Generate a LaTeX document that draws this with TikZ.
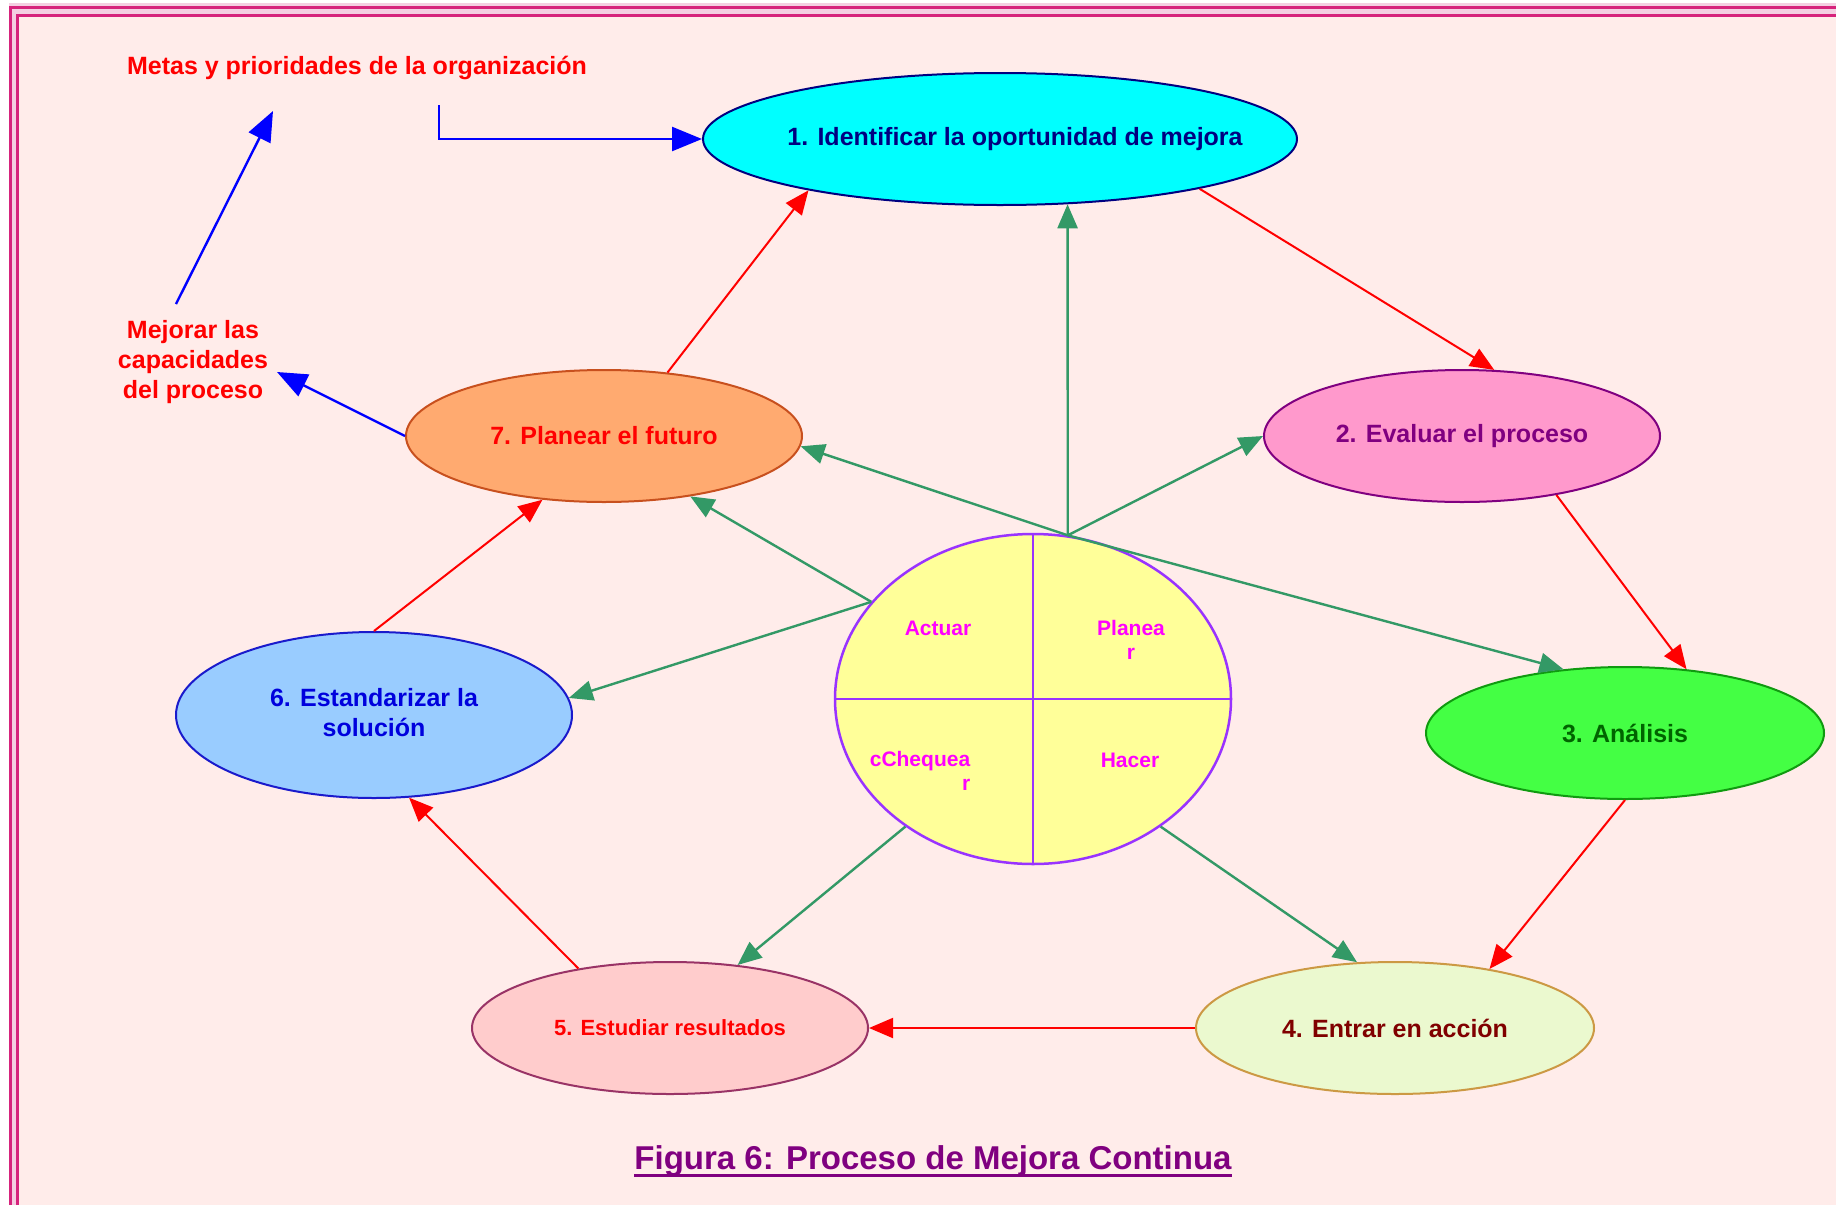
\documentclass[tikz,border=0pt]{standalone}
\usepackage{fontspec}
\setmainfont{Liberation Sans}
\usetikzlibrary{shapes.geometric,arrows.meta}
\definecolor{bg}{HTML}{FFECEA}
\definecolor{band}{HTML}{F4CFE2}
\definecolor{framec}{HTML}{D6237C}
\definecolor{grn}{HTML}{339966}
\definecolor{fa}{HTML}{00FFFF}\definecolor{da}{HTML}{000080}
\definecolor{fb}{HTML}{FF99CC}\definecolor{db}{HTML}{800080}
\definecolor{fc}{HTML}{44FF44}\definecolor{dc}{HTML}{109A10}\definecolor{tc}{HTML}{006400}
\definecolor{fd}{HTML}{EBF9CF}\definecolor{dd}{HTML}{CC9944}\definecolor{td}{HTML}{800000}
\definecolor{fe}{HTML}{FFCCCC}\definecolor{de}{HTML}{993366}
\definecolor{ff}{HTML}{99CCFF}\definecolor{df}{HTML}{1A1ACC}\definecolor{tf}{HTML}{0000DD}
\definecolor{fg}{HTML}{FFAA70}\definecolor{dg}{HTML}{C8501E}
\definecolor{circf}{HTML}{FFFF99}\definecolor{circd}{HTML}{9933FF}
\definecolor{quad}{HTML}{FF00FF}
\definecolor{capc}{HTML}{800080}
\newcommand{\ctext}[1]{\makebox[0pt][c]{#1}}
\tikzset{
  ell/.style={ellipse, draw, line width=2pt, inner sep=0pt,
    font=\bfseries\fontsize{25}{30}\selectfont},
  redar/.style={draw=red, line width=2pt, -{Triangle[length=24pt,width=20pt]}, red},
  grnar/.style={draw=grn, line width=2.4pt, -{Triangle[length=24pt,width=20pt]}, grn},
  bluar/.style={draw=blue, line width=2.4pt, -{Triangle[length=30pt,width=24pt]}, blue},
  redtxt/.style={text=red, font=\bfseries\fontsize{25}{29.6}\selectfont, align=center, inner sep=0pt},
  quadtxt/.style={text=quad, font=\bfseries\fontsize{21}{24}\selectfont, inner sep=0pt},
}
\begin{document}
\begin{tikzpicture}[x=1pt,y=-1pt]
\useasboundingbox (0,0) rectangle (1836,1205);
\fill[white] (0,0) rectangle (1836,1205);
\fill[band] (9,3) rectangle (1836,1205);
\fill[bg] (19.3,16.5) rectangle (1836,1205);
\draw[framec, line width=3pt] (10.7,1205) -- (10.7,7.3) -- (1836,7.3);
\draw[framec, line width=3pt] (17.8,1205) -- (17.8,15) -- (1836,15);

% process ellipses
\node[ell, fill=fa, draw=da, text=da, minimum width=594pt, minimum height=132pt] (e1) at (1000,139) {\ctext{\hspace*{30pt}1. Identificar la oportunidad de mejora}};
\node[ell, fill=fb, draw=db, text=db, minimum width=396pt, minimum height=132pt] (e2) at (1462,436) {\ctext{2. Evaluar el proceso}};
\node[ell, fill=fc, draw=dc, text=tc, minimum width=398pt, minimum height=132pt] (e3) at (1625,733) {\ctext{3. Análisis}};
\node[ell, fill=fd, draw=dd, text=td, minimum width=398pt, minimum height=132pt] (e4) at (1395,1028) {\ctext{4. Entrar en acción}};
\node[ell, fill=fe, draw=de, text=red, minimum width=396pt, minimum height=132pt, font=\bfseries\fontsize{22}{26}\selectfont] (e5) at (670,1028) {\ctext{5. Estudiar resultados}};
\node[ell, fill=ff, draw=df, text=tf, minimum width=396pt, minimum height=166pt] (e6) at (374,715) {\ctext{\begin{tabular}{@{}c@{}}6. Estandarizar la\\solución\end{tabular}}};
\node[ell, fill=fg, draw=dg, text=red, minimum width=396pt, minimum height=132pt] (e7) at (604,436) {\ctext{7. Planear el futuro}};

% PDCA circle
\node[ellipse, draw=circd, fill=circf, line width=2.5pt, minimum width=396pt, minimum height=330pt, inner sep=0pt] (C) at (1033,699) {};
\draw[circd, line width=2.5pt] (C.north) -- (C.south);
\draw[circd, line width=2.5pt] (C.west) -- (C.east);
\node[quadtxt] (qa) at (938,628) {Actuar};
\node[quadtxt, align=center] (qp) at (1131,640) {Planea\\r};
\node[quadtxt, align=right] (qc) at (920,771) {cChequea\\r};
\node[quadtxt] (qh) at (1130,760) {Hacer};

% free texts
\node[redtxt] (metas) at (357,68) {Metas y prioridades de la organización};
\node[redtxt] (mej) at (193,362) {Mejorar las\\capacidades\\del proceso};

% red cycle
\draw[redar] (e1.-14) -- (e2.64);
\draw[redar] (e2.-32) -- (e3.46);
\draw[redar] (e3.-90) -- (e4.32);
\draw[redar] (e4.west) -- (e5.east);
\draw[redar] (e5.147) -- (e6.-67);
\draw[redar] (e6.90) -- (e7.-134);
\draw[redar] (e7.45) -- (e1.195);

% green spokes
\draw[grnar] (C.78) -- (e1.-44);
\draw[grnar] (C.78) -- (e2.west);
\draw[grnar] (C.78) -- (e7.-3);
\draw[grnar] (C.78) -- (e3.134);
\draw[grnar] (C.149) -- (e7.-35);
\draw[grnar] (C.149) -- (e6.5);
\draw[grnar] (C.-135) -- (e5.43);
\draw[grnar] (C.-45) -- (e4.120);

% blue arrows
\coordinate (b0) at (439,105);
\draw[bluar] (b0) |- (e1.west);
\coordinate (b1) at (176,304);
\coordinate (b2) at (273,111);
\draw[bluar] (b1) -- (b2);
\coordinate (b3) at (277,372);
\draw[bluar] (e7.west) -- (b3);

% caption
\node[anchor=base, inner sep=0pt, text=capc, font=\bfseries\fontsize{33}{38}\selectfont] (cap) at (933,1169) {Figura 6: Proceso de Mejora Continua};
\draw[capc, line width=3pt] ([yshift=-6pt]cap.base west) -- ([yshift=-6pt]cap.base east);
\end{tikzpicture}
\end{document}
